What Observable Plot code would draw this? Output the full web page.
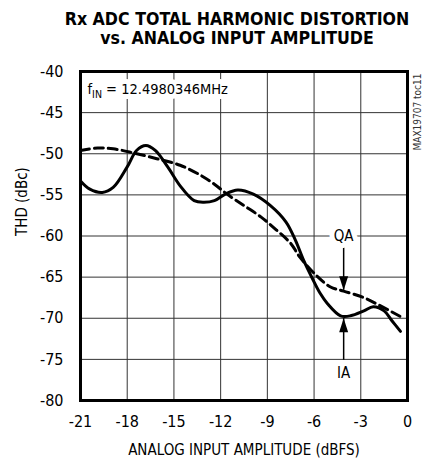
<!DOCTYPE html>
<html><head><meta charset="utf-8">
<script src="https://cdn.jsdelivr.net/npm/d3@7"></script>
<script src="https://cdn.jsdelivr.net/npm/@observablehq/plot@0.6"></script>
<style>
body{margin:0;background:#fff;}
#title{width:430px;height:56px;box-sizing:border-box;padding-top:10px;padding-left:44px;text-align:center;font-family:'Liberation Sans Narrow','DejaVu Sans Condensed',sans-serif;font-weight:bold;font-size:17.6px;line-height:19px;color:#000;white-space:nowrap;}
</style></head><body>
<div id="title">Rx ADC TOTAL HARMONIC DISTORTION<br>vs. ANALOG INPUT AMPLITUDE</div>
<div id="chart"></div>
<script>
// ---- data ----
const xTicks = [-21, -18, -15, -12, -9, -6, -3, 0];
const yTicks = [-80, -75, -70, -65, -60, -55, -50, -45, -40];

const iaX = [-21, -20.4, -19.6, -18.9, -18.0, -17.4, -16.8, -16.2, -15.4, -14.6, -13.7, -13.1, -12.4, -11.7, -10.9, -9.9, -8.8, -7.8, -7.2, -6.66, -6.1, -5.6, -5.15, -4.3, -3.66, -2.8, -2.2, -1.5, -1.0, -0.45];
const iaY = [-53.3, -54.3, -54.7, -54.1, -51.6, -49.6, -49.0, -49.6, -51.6, -53.9, -55.7, -55.9, -55.7, -54.9, -54.4, -54.9, -56.3, -58.3, -60.5, -63.0, -65.2, -67.0, -68.2, -69.7, -69.7, -69.1, -68.6, -69.1, -70.3, -71.6];

const qaX = [-21, -19.9, -18.9, -17.6, -16.1, -14.6, -13.3, -12.4, -11.6, -10.5, -9.4, -8.4, -7.5, -6.9, -5.8, -4.94, -4.1, -2.8, -1.73, -0.45];
const qaY = [-49.6, -49.3, -49.4, -49.9, -50.6, -51.4, -52.6, -53.7, -54.9, -56.3, -57.7, -59.3, -60.9, -62.6, -64.9, -66.2, -66.7, -67.5, -68.5, -69.8];

const seriesNames = ["QA", "IA"];
const labelX = [-4.1, -4.1];
const labelY = [-60, -76.7];
const arrowFrom = [-61.4, -75.1];
const arrowTip = [-66.6, -70.0];

const finLabel = "fIN = 12.4980346MHz";
const tocLabel = "MAX19707 toc11";

// ---- build tables ----
const ia = iaX.map((x, i) => ({x, y: iaY[i]}));
const qa = qaX.map((x, i) => ({x, y: qaY[i]}));
const labels = seriesNames.map((s, i) => ({s, x: labelX[i], y: labelY[i], y1: arrowFrom[i], y2: arrowTip[i]}));

const FONT = "'Liberation Sans Narrow','DejaVu Sans Condensed',sans-serif";
const downTri = {draw(ctx){ ctx.moveTo(0,0); ctx.lineTo(-4.5,-14); ctx.lineTo(4.5,-14); ctx.closePath(); }};
const upTri = {draw(ctx){ ctx.moveTo(0,0); ctx.lineTo(-4.5,14); ctx.lineTo(4.5,14); ctx.closePath(); }};

const finOpts = {x: -21, y: -42.2, dx: 7, textAnchor: "start", lineAnchor: "middle", fontSize: 14.5};

const chart = Plot.plot({
  width: 430, height: 416,
  marginTop: 15, marginBottom: 72, marginLeft: 80, marginRight: 23,
  style: {fontFamily: FONT, fontSize: "16px", color: "#000", background: "#fff"},
  x: {domain: [-21, 0]},
  y: {domain: [-80, -40]},
  marks: [
    Plot.gridX(xTicks, {stroke: "#333", strokeOpacity: 1, strokeWidth: 1}),
    Plot.gridY(yTicks, {stroke: "#333", strokeOpacity: 1, strokeWidth: 1}),
    Plot.axisX(xTicks, {tickSize: 0, tickPadding: 15, tickFormat: d => String(d), label: null, fontSize: 16}),
    Plot.axisY(yTicks, {tickSize: 0, tickPadding: 17, tickFormat: d => String(d), label: null, fontSize: 16}),
    Plot.text(["ANALOG INPUT AMPLITUDE (dBFS)"], {frameAnchor: "bottom", dy: 50, lineAnchor: "middle", fontSize: 15, fill: "#000"}),
    Plot.text(["THD (dBc)"], {frameAnchor: "left", dx: -58, rotate: -90, lineAnchor: "middle", fontSize: 15, fill: "#000"}),
    Plot.text([tocLabel], {frameAnchor: "top-right", dx: 10, dy: 2, rotate: -90, textAnchor: "end", lineAnchor: "middle", fontSize: 10, fill: "#333"}),
    Plot.line(qa, {x: "x", y: "y", curve: "catmull-rom", stroke: "#000", strokeWidth: 3, strokeDasharray: "9,5"}),
    Plot.line(ia, {x: "x", y: "y", curve: "catmull-rom", stroke: "#000", strokeWidth: 3}),
    Plot.ruleX(labels, {x: "x", y1: "y1", y2: "y2", stroke: "#000", strokeWidth: 1.5}),
    Plot.dot(labels.filter(d => d.s === "QA"), {x: "x", y: "y2", symbol: downTri, fill: "#000", stroke: "none"}),
    Plot.dot(labels.filter(d => d.s === "IA"), {x: "x", y: "y2", symbol: upTri, fill: "#000", stroke: "none"}),
    Plot.text(labels, {x: "x", y: "y", text: "s", fontSize: 15, fill: "#000", stroke: "#fff", strokeWidth: 10, paintOrder: "stroke", lineAnchor: "middle"}),
    Plot.text([finLabel], {...finOpts, fill: "#fff", stroke: "#fff", strokeWidth: 10}),
    Plot.text([finLabel], {...finOpts, fill: "#000"}),
    Plot.frame({stroke: "#000", strokeWidth: 3})
  ]
});
document.getElementById("chart").appendChild(chart);

// subscript for f_IN
d3.select(chart).selectAll("text").filter(function(){ return this.textContent === finLabel; }).each(function(){
  const t = d3.select(this);
  t.text(null);
  t.append("tspan").text("f");
  t.append("tspan").attr("dy", "4").attr("font-size", "10.5").text("IN");
  t.append("tspan").attr("dy", "-4").text(" = 12.4980346MHz");
});
</script>
</body></html>
